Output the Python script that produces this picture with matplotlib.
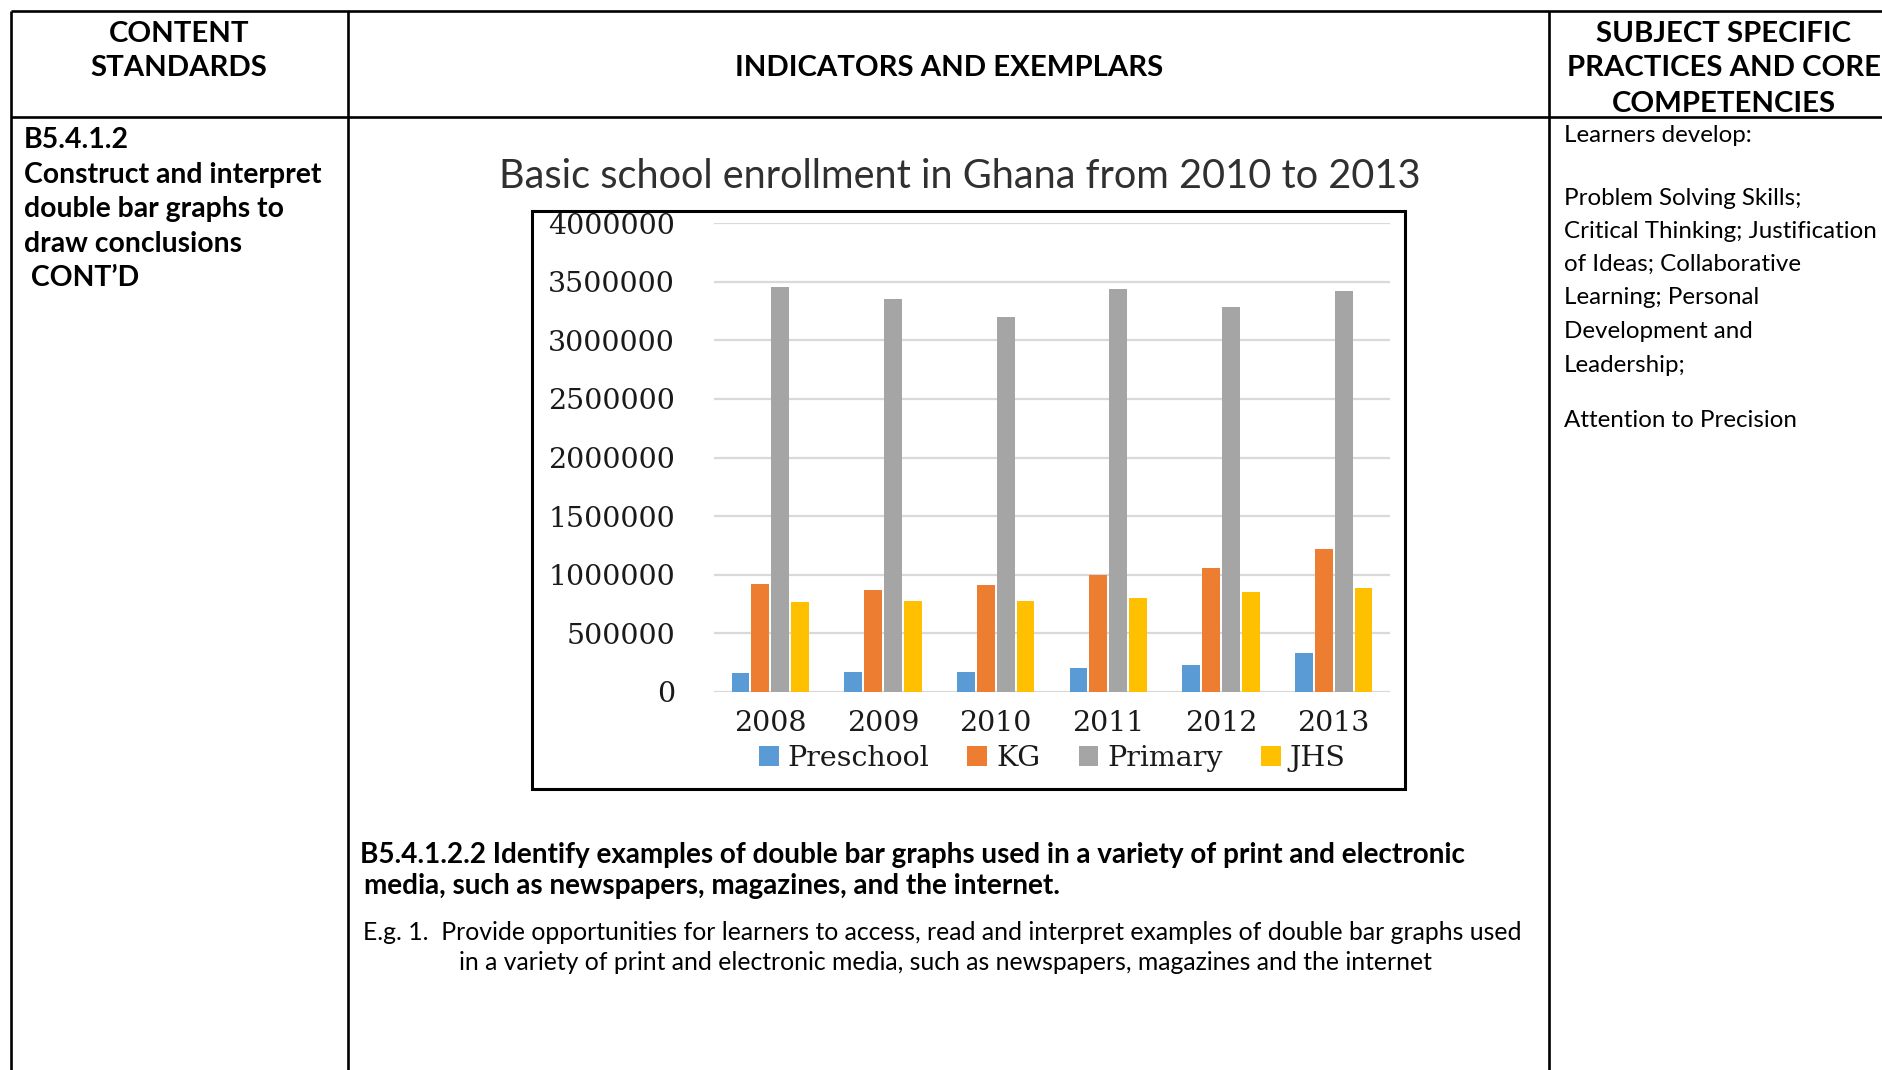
import matplotlib
matplotlib.use("Agg")
import matplotlib.pyplot as plt
import numpy as np

# ---------------- data ----------------
years = ["2008", "2009", "2010", "2011", "2012", "2013"]
preschool = [164000, 173000, 173000, 206000, 232000, 331000]
kg = [923000, 874000, 910000, 995000, 1057000, 1218000]
primary = [3453000, 3352000, 3198000, 3437000, 3283000, 3421000]
jhs = [769000, 779000, 779000, 799000, 851000, 884000]
series_names = ["Preschool", "KG", "Primary", "JHS"]
series_colors = ["#5B9BD5", "#ED7D31", "#A5A5A5", "#FFC000"]
yticks = [0, 500000, 1000000, 1500000, 2000000, 2500000, 3000000, 3500000, 4000000]

chart_title = "Basic school enrollment in Ghana from 2010 to 2013"
header_left = ["CONTENT", "STANDARDS"]
header_mid = "INDICATORS AND EXEMPLARS"
header_right = ["SUBJECT SPECIFIC", "PRACTICES AND CORE", "COMPETENCIES"]
left_lines = ["B5.4.1.2", "Construct and interpret", "double bar graphs to",
              "draw conclusions", " CONT\u2019D"]
right_lines = ["Learners develop:", "Problem Solving Skills;",
               "Critical Thinking; Justification", "of Ideas; Collaborative",
               "Learning; Personal", "Development and", "Leadership;",
               "Attention to Precision"]
bottom_bold = ["B5.4.1.2.2 Identify examples of double bar graphs used in a variety of print and electronic",
               "media, such as newspapers, magazines, and the internet."]
bottom_reg = ["E.g. 1.  Provide opportunities for learners to access, read and interpret examples of double bar graphs used",
              "in a variety of print and electronic media, such as newspapers, magazines and the internet"]

# ---------------- figure ----------------
W, H = 1883, 1070
fig = plt.figure(figsize=(W / 100, H / 100), dpi=100)
fig.patch.set_facecolor("white")
bg = fig.add_axes([0, 0, 1, 1])
bg.set_xlim(0, W)
bg.set_ylim(H, 0)
bg.axis("off")
renderer = fig.canvas.get_renderer()

SANS = ["Lato", "DejaVu Sans"]


def fit(text, target, weight="normal", family=SANS, base=20):
    t = bg.text(0, 0, text, fontsize=base, fontweight=weight, family=family)
    w = t.get_window_extent(renderer).width
    t.remove()
    return base * target / w


# table lines
lw = 1.9
for x in (11, 348, 1549):
    bg.plot([x, x], [11, H + 5], color="black", lw=lw, solid_capstyle="butt")
for y in (11, 116.5):
    bg.plot([11, W + 5], [y, y], color="black", lw=lw, solid_capstyle="butt")

# headers
hs = fit(header_mid, 428, "bold")
bg.text(179, 34.5, header_left[0], ha="center", va="center", fontsize=hs, fontweight="bold", family=SANS)
bg.text(179, 68.5, header_left[1], ha="center", va="center", fontsize=hs, fontweight="bold", family=SANS)
bg.text(949, 68.5, header_mid, ha="center", va="center", fontsize=hs, fontweight="bold", family=SANS)
for txt, y in zip(header_right, (34.5, 68.5, 103.5)):
    bg.text(1724, y, txt, ha="center", va="center", fontsize=hs, fontweight="bold", family=SANS)

# left column
ls = fit(left_lines[1], 298, "bold")
for txt, y in zip(left_lines, (139.5, 174.5, 209.5, 243.5, 278.5)):
    bg.text(24, y, txt, ha="left", va="center", fontsize=ls, fontweight="bold", family=SANS)

# right column
rs = fit(right_lines[2], 313)
for txt, y in zip(right_lines, (135.5, 198.5, 231.5, 264.5, 297.5, 331.5, 365.5, 420.5)):
    bg.text(1564, y, txt, ha="left", va="center", fontsize=rs, family=SANS)

# bottom text
bs = fit(bottom_bold[0], 1105, "bold")
bg.text(360, 855, bottom_bold[0], ha="left", va="center", fontsize=bs, fontweight="bold", family=SANS)
bg.text(364, 886, bottom_bold[1], ha="left", va="center", fontsize=bs, fontweight="bold", family=SANS)
rs2 = fit(bottom_reg[0], 1161)
bg.text(363, 932, bottom_reg[0], ha="left", va="center", fontsize=rs2, family=SANS)
bg.text(459, 963, bottom_reg[1], ha="left", va="center", fontsize=rs2, family=SANS)

# chart title and frame
ts = fit(chart_title, 924)
bg.text(960, 176, chart_title, ha="center", va="center", fontsize=ts, family=SANS, color="#303030")
bg.add_patch(plt.Rectangle((532, 211), 1405 - 532, 789 - 211, fill=False, ec="black", lw=2.2))

# ---------------- chart ----------------
x0, x1, ytop, ybot = 714, 1390, 223, 692
ax = fig.add_axes([x0 / W, (H - ybot) / H, (x1 - x0) / W, (ybot - ytop) / H])
ax.set_facecolor("none")
x = np.arange(len(years))
bw = 0.158
step = 0.177
data = [preschool, kg, primary, jhs]
for i, (vals, name, col) in enumerate(zip(data, series_names, series_colors)):
    ax.bar(x + (i - 1.5) * step, vals, width=bw, color=col, label=name, zorder=3)
ax.set_xlim(-0.5, len(years) - 0.5)
ax.set_ylim(0, 4000000)
ax.set_yticks(yticks)
ax.set_yticklabels([str(v) for v in yticks])
ax.set_xticks(x)
ax.set_xticklabels(years)
ax.grid(axis="y", color="#d9d9d9", lw=1.6, zorder=0)
ax.set_axisbelow(True)
for s in ax.spines.values():
    s.set_visible(False)
ax.tick_params(length=0)
ax.tick_params(axis="y", pad=28)
ax.tick_params(axis="x", pad=13)
tick_font = ["DejaVu Serif"]
tick_size = 20.5
for lab in ax.get_yticklabels() + ax.get_xticklabels():
    lab.set_fontfamily(tick_font)
    lab.set_fontsize(tick_size)
    lab.set_color("#1a1a1a")
leg = ax.legend(loc="center", bbox_to_anchor=(0.5, (ybot - 758) / (ybot - ytop)), ncol=4,
                frameon=False, handlelength=0.7, handleheight=0.7, handletextpad=0.3,
                columnspacing=1.35, prop={"family": "DejaVu Serif", "size": tick_size})
for t in leg.get_texts():
    t.set_color("#1a1a1a")

fig.savefig("out.png", dpi=100, facecolor="white")
